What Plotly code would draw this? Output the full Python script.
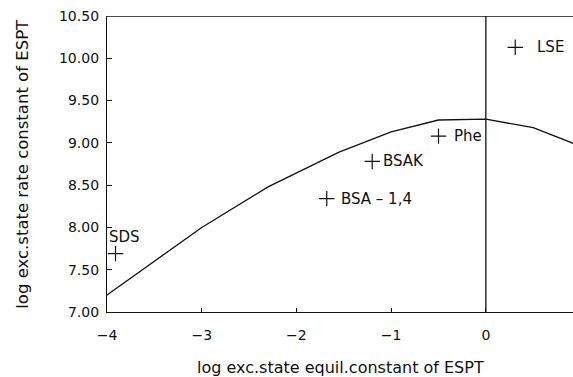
import plotly.graph_objects as go

# Correlation curve: log excited-state rate constant vs. log equilibrium constant
curve_x = [-4.0, -3.0, -2.3, -1.55, -1.0, -0.5, 0.0, 0.5, 1.0]
curve_y = [7.20, 8.00, 8.48, 8.89, 9.13, 9.27, 9.28, 9.18, 8.96]

# Measured systems
pt_names = ["SDS", "BSA \u2013 1,4", "BSAK", "Phe", "LSE"]
pt_x = [-3.91, -1.68, -1.20, -0.50, 0.31]
pt_y = [7.69, 8.34, 8.78, 9.08, 10.13]

x_ticks = [-4, -3, -2, -1, 0]
x_tick_text = ["\u22124", "\u22123", "\u22122", "\u22121", "0"]
y_ticks = [7.0, 7.5, 8.0, 8.5, 9.0, 9.5, 10.0, 10.5]
y_tick_text = ["7.00", "7.50", "8.00", "8.50", "9.00", "9.50", "10.00", "10.50"]

ink = "#111111"
font_family = "DejaVu Sans, Verdana, sans-serif"

fig = go.Figure()

fig.add_trace(go.Scatter(
    x=curve_x, y=curve_y, mode="lines",
    line=dict(color=ink, width=1.3), hoverinfo="skip", showlegend=False,
))

fig.add_trace(go.Scatter(
    x=pt_x, y=pt_y, mode="markers",
    marker=dict(symbol="cross-thin", size=11, line=dict(color=ink, width=1.2)),
    showlegend=False,
))

# Label placement relative to each marker (pixel offsets)
label_dx = {"SDS": -9, "BSA \u2013 1,4": 12, "BSAK": 9, "Phe": 13, "LSE": 20}
label_dy = {"SDS": 17, "BSA \u2013 1,4": 0, "BSAK": 0, "Phe": 0, "LSE": 0}
for name, x, y in zip(pt_names, pt_x, pt_y):
    fig.add_annotation(x=x, y=y, text=name, showarrow=False,
                       xanchor="left", yanchor="middle",
                       xshift=label_dx[name], yshift=label_dy[name],
                       font=dict(size=15, color=ink, family=font_family))

# Top frame line and the vertical reference line at log K = 0
fig.add_shape(type="line", xref="paper", yref="y", x0=0, x1=1, y0=10.5, y1=10.5,
              line=dict(color=ink, width=1.3))
fig.add_shape(type="line", xref="x", yref="paper", x0=0, x1=0, y0=0, y1=1,
              line=dict(color=ink, width=1.3))

# Axis titles
fig.add_annotation(xref="paper", yref="paper", x=0.5, y=-0.186,
                   text="log exc.state equil.constant of ESPT", showarrow=False,
                   xanchor="center", yanchor="middle",
                   font=dict(size=16, color=ink, family=font_family))
fig.add_annotation(xref="paper", yref="paper", x=-0.183, y=0.5,
                   text="log exc.state rate constant of ESPT", showarrow=False,
                   textangle=-90, xanchor="center", yanchor="middle",
                   font=dict(size=16.5, color=ink, family=font_family))

fig.update_layout(
    width=573, height=377,
    margin=dict(l=107, r=0, t=16, b=65),
    paper_bgcolor="white", plot_bgcolor="white",
    font=dict(family=font_family, size=14, color=ink),
    xaxis=dict(
        range=[-4, 0.92], tickvals=x_ticks, ticktext=x_tick_text,
        showgrid=False, zeroline=False, showline=True, linecolor=ink, linewidth=1.3,
        ticks="inside", ticklen=4, tickcolor=ink, tickfont=dict(size=14),
        ticklabelstandoff=10,
    ),
    yaxis=dict(
        range=[7.0, 10.5], tickvals=y_ticks, ticktext=y_tick_text,
        showgrid=False, zeroline=False, showline=True, linecolor=ink, linewidth=1.3,
        ticks="inside", ticklen=5, tickcolor=ink, tickfont=dict(size=14),
        ticklabelstandoff=4,
    ),
)

fig.write_html("out.html")
